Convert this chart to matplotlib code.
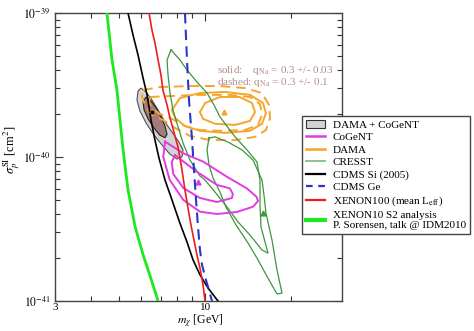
import matplotlib
matplotlib.use("Agg")
import matplotlib.pyplot as plt
from matplotlib.patches import Polygon, Patch
from matplotlib.lines import Line2D
import numpy as np

plt.rcParams['font.family'] = ['Liberation Serif', 'DejaVu Serif']
plt.rcParams['mathtext.fontset'] = 'stix'

# ---- data (mass in GeV, cross-section in 1e-40 cm^2) ----
xenon10_m = [4.55, 4.74, 4.93, 5.18, 5.39, 5.56, 5.70, 6.08, 6.42, 6.86]
xenon10_s = [10.0, 4.72, 2.92, 1.12, 0.59, 0.429, 0.33, 0.21, 0.151, 0.10]

cdmssi_m = [5.39, 5.61, 5.84, 6.08, 6.28, 6.48, 6.69, 6.91, 7.25, 7.67, 8.17, 8.65, 9.08, 9.60, 10.24, 11.09]
cdmssi_s = [10.0, 7.03, 5.11, 3.54, 2.70, 1.81, 1.31, 0.984, 0.693, 0.503, 0.348, 0.257, 0.193, 0.152, 0.123, 0.10]

xenon100_m = [6.38, 6.53, 6.69, 6.86, 7.02, 7.13, 7.37, 7.53, 7.79, 8.05, 8.31, 8.51, 8.72, 8.93, 9.15, 9.37, 9.60, 9.84, 10.0]
xenon100_s = [10.0, 7.62, 6.19, 4.72, 3.71, 2.92, 2.30, 1.90, 1.49, 1.17, 0.812, 0.59, 0.443, 0.337, 0.265, 0.209, 0.169, 0.129, 0.10]

cdmsge_m = [8.51, 8.65, 8.79, 9.01, 9.15, 9.30, 9.45, 9.60, 9.76, 10.07, 10.32, 10.57]
cdmsge_s = [10.0, 4.72, 2.49, 1.31, 0.812, 0.503, 0.327, 0.226, 0.178, 0.140, 0.119, 0.10]

combo_outer_m = [5.98, 6.23, 6.53, 6.86, 7.25, 7.67, 8.11, 8.38, 8.31, 7.98, 7.53, 7.08, 6.64, 6.23, 5.93, 5.79, 5.84]
combo_outer_s = [3.01, 2.83, 2.49, 2.12, 1.75, 1.49, 1.27, 1.12, 1.00, 0.968, 1.05, 1.21, 1.42, 1.72, 2.09, 2.49, 2.87]
combo_inner_m = [6.23, 6.48, 6.75, 7.02, 7.25, 7.37, 7.25, 6.95, 6.64, 6.33, 6.13, 6.08]
combo_inner_s = [2.61, 2.45, 2.19, 1.90, 1.64, 1.44, 1.36, 1.42, 1.59, 1.84, 2.12, 2.41]
combo_best = (6.53, 2.05)

dama_dash_out_m = [6.08, 6.95, 8.86, 11.27, 13.78, 15.79, 16.70, 16.84, 16.30, 14.93, 12.72, 10.40, 8.86, 7.86, 7.13, 6.53, 6.18, 6.03]
dama_dash_out_s = [2.92, 3.06, 3.11, 3.11, 3.01, 2.78, 2.30, 1.87, 1.54, 1.38, 1.31, 1.31, 1.40, 1.59, 1.81, 1.96, 2.30, 2.61]
dama_dash_in_m = [6.42, 7.55, 9.60, 12.2, 14.34, 15.54, 15.79, 15.29, 13.78, 11.27, 9.60, 8.51, 7.55, 6.95, 6.53, 6.38]
dama_dash_in_s = [2.61, 2.65, 2.70, 2.70, 2.61, 2.33, 1.96, 1.67, 1.54, 1.52, 1.54, 1.64, 1.87, 1.99, 2.19, 2.41]
dama_sol_out_m = [7.67, 8.18, 9.60, 11.73, 14.34, 15.92, 16.30, 15.79, 14.34, 11.73, 9.60, 8.51, 7.86]
dama_sol_out_s = [2.12, 2.57, 2.78, 2.83, 2.70, 2.37, 2.02, 1.70, 1.52, 1.47, 1.52, 1.64, 1.87]
dama_sol_in_m = [9.60, 10.0, 11.27, 13.2, 14.57, 14.93, 14.34, 12.72, 10.83, 9.84]
dama_sol_in_s = [2.05, 2.37, 2.61, 2.61, 2.37, 2.05, 1.78, 1.67, 1.70, 1.84]
dama_best = (11.6, 2.05)

cogent_out_m = [7.25, 8.40, 9.86, 11.9, 13.97, 15.1, 15.3, 14.7, 12.9, 11.0, 9.60, 8.40, 7.53, 7.15]
cogent_out_s = [1.28, 1.06, 0.928, 0.730, 0.606, 0.530, 0.495, 0.452, 0.415, 0.402, 0.417, 0.503, 0.693, 1.00]
cogent_in_m = [7.86, 9.35, 11.0, 12.2, 12.5, 12.4, 11.0, 9.60, 8.40, 7.75, 7.65]
cogent_in_s = [1.03, 0.791, 0.64, 0.606, 0.553, 0.519, 0.487, 0.519, 0.609, 0.762, 0.923]
cogent_best = (9.47, 0.67)

cresst_a_m = [7.61, 8.18, 8.65, 9.37, 10.16, 10.74, 11.27, 12.72, 14.0, 15.17, 15.54, 15.54, 15.66, 16.57,
              15.79, 14.34, 13.03, 11.93, 10.83, 10.0, 9.60, 8.86, 8.38, 8.05, 7.73, 7.55, 7.43, 7.37]
cresst_a_s = [5.54, 4.72, 4.02, 3.32, 2.78, 2.30, 1.90, 1.38, 1.12, 0.923, 0.692, 0.464, 0.327, 0.215,
              0.226, 0.287, 0.354, 0.449, 0.571, 0.692, 0.738, 0.953, 1.25, 1.62, 2.12, 2.78, 3.71, 4.72]
cresst_b_m = [10.32, 10.83, 12.02, 13.45, 14.69, 15.79, 16.04, 16.30, 17.11, 17.81, 18.54,
              17.81, 16.57, 15.29, 14.11, 12.82, 11.83, 11.27, 10.66, 10.32, 10.16]
cresst_b_s = [1.355, 1.38, 1.27, 1.12, 0.953, 0.692, 0.545, 0.408, 0.265, 0.164, 0.1136,
              0.1118, 0.144, 0.193, 0.253, 0.337, 0.449, 0.571, 0.715, 0.880, 1.12]
cresst_best = (15.9, 0.408)

UNIT = 1e-40

legend_labels = ["DAMA + CoGeNT", "CoGeNT", "DAMA", "CRESST", "CDMS Si (2005)", "CDMS Ge",
                 r"XENON100 (mean L$_{\rm eff}$)", "XENON10 S2 analysis\nP. Sorensen, talk @ IDM2010"]

C_MAG = "#e03ce0"
C_ORA = "#f5a52a"
C_CRE = "#3f9440"
C_RED = "#e8201c"
C_BLU = "#2a35cc"
C_LIM = "#1ee81e"

def sc(v):
    return np.asarray(v) * UNIT

fig = plt.figure(figsize=(4.74, 3.31), dpi=100)
ax = fig.add_axes([55/474, 30/331, 287/474, 288/331])
ax.set_xscale('log')
ax.set_yscale('log')
ax.set_xlim(3, 30)
ax.set_ylim(1e-41, 1e-39)

# combined region
ax.add_patch(Polygon(np.column_stack([combo_outer_m, sc(combo_outer_s)]), closed=True,
                     facecolor="#d4d4d4", edgecolor="#505050", lw=0.8, zorder=2))
ax.add_patch(Polygon(np.column_stack([combo_inner_m, sc(combo_inner_s)]), closed=True,
                     facecolor="#a37b7b", edgecolor="#222222", lw=0.8, zorder=2.1))

def closed(ax, m, s, **kw):
    m = list(m) + [m[0]]
    s = list(s) + [s[0]]
    ax.plot(m, sc(s), **kw)

# DAMA
closed(ax, dama_dash_out_m, dama_dash_out_s, color=C_ORA, lw=1.4, ls=(0, (5, 3)), zorder=3)
closed(ax, dama_dash_in_m, dama_dash_in_s, color=C_ORA, lw=1.4, ls=(0, (5, 3)), zorder=3)
closed(ax, dama_sol_out_m, dama_sol_out_s, color=C_ORA, lw=1.4, zorder=3)
closed(ax, dama_sol_in_m, dama_sol_in_s, color=C_ORA, lw=1.4, zorder=3)
ax.plot([dama_best[0]], [dama_best[1]*UNIT], marker='^', color=C_ORA, ms=3.5, zorder=4)

# CRESST
closed(ax, cresst_a_m, cresst_a_s, color=C_CRE, lw=0.9, zorder=3)
closed(ax, cresst_b_m, cresst_b_s, color=C_CRE, lw=0.9, zorder=3)
ax.plot([cresst_best[0]], [cresst_best[1]*UNIT], marker='^', color=C_CRE, ms=3.5, zorder=4)

# CoGeNT
closed(ax, cogent_out_m, cogent_out_s, color=C_MAG, lw=1.4, zorder=3)
closed(ax, cogent_in_m, cogent_in_s, color=C_MAG, lw=1.4, zorder=3)
ax.plot([cogent_best[0]], [cogent_best[1]*UNIT], marker='^', color=C_MAG, ms=3.5, zorder=4)

# limits
ax.plot(xenon10_m, sc(xenon10_s), color=C_LIM, lw=2.0, zorder=5)
ax.plot(cdmssi_m, sc(cdmssi_s), color="black", lw=1.2, zorder=5)
ax.plot(xenon100_m, sc(xenon100_s), color=C_RED, lw=1.2, zorder=5)
ax.plot(cdmsge_m, sc(cdmsge_s), color=C_BLU, lw=1.5, ls=(0, (5, 3)), zorder=5)

ax.plot([combo_best[0]], [combo_best[1]*UNIT], marker='+', color=C_ORA, ms=4, mew=1, zorder=6)
ax.plot([combo_best[0]], [combo_best[1]*UNIT], marker='o', color="black", ms=1.8, zorder=6)

# ticks
ax.set_xticks([3, 10])
ax.set_xticklabels(["3", "10"])
ax.set_xticks([4, 5, 6, 7, 8, 9, 20], minor=True)
ax.set_xticklabels([], minor=True)
ax.set_yticks([1e-41, 1e-40, 1e-39])
ax.set_yticklabels([r"$10^{-41}$", r"$10^{-40}$", r"$10^{-39}$"])
ax.tick_params(which='both', direction='in', top=True, right=True, colors="#333333",
               labelcolor="black", labelsize=8.5)
ax.tick_params(which='major', length=6, width=0.8, pad=3)
ax.tick_params(axis='x', which='major', pad=1.5, labelsize=8)
ax.tick_params(which='minor', length=3.5, width=0.8)
for sp in ax.spines.values():
    sp.set_color("#444444")
    sp.set_linewidth(1.0)

fig.text(200/474, 0.5/331, r"$m_\chi$ [GeV]", ha='center', va='bottom', fontsize=8.5)
fig.text(12/474, 1 - 150/331, r"$\sigma_p^{\rm SI}$ [cm$^2$]", ha='center', va='center',
         rotation=90, fontsize=9)

ax.text(0.564, 0.79, r"solid:    q$_{\rm Na}$ = 0.3 +/- 0.03", transform=ax.transAxes,
        fontsize=8, color="#b48c8c", va='baseline', ha='left', zorder=7)
ax.text(0.564, 0.75, r"dashed: q$_{\rm Na}$ = 0.3 +/- 0.1", transform=ax.transAxes,
        fontsize=8, color="#b48c8c", va='baseline', ha='left', zorder=7)

handles = [
    Patch(facecolor="#d4d4d4", edgecolor="#333333", lw=0.8),
    Line2D([], [], color=C_MAG, lw=1.8),
    Line2D([], [], color=C_ORA, lw=1.8),
    Line2D([], [], color="#8cc28c", lw=1.4),
    Line2D([], [], color="black", lw=1.6),
    Line2D([], [], color=C_BLU, lw=1.6, ls=(0, (3, 2.5))),
    Line2D([], [], color=C_RED, lw=1.6),
    Line2D([], [], color=C_LIM, lw=3.0),
]
leg = fig.legend(handles, legend_labels, loc='upper left', bbox_to_anchor=(302/474, 1 - 116/331),
                 fontsize=8, frameon=True, fancybox=False, framealpha=1, edgecolor="#444444",
                 labelspacing=0.24, handlelength=1.7, handletextpad=0.7, borderpad=0.35,
                 borderaxespad=0)
leg.get_frame().set_linewidth(1.0)
leg.set_zorder(10)

fig.savefig("out.png", dpi=100)
